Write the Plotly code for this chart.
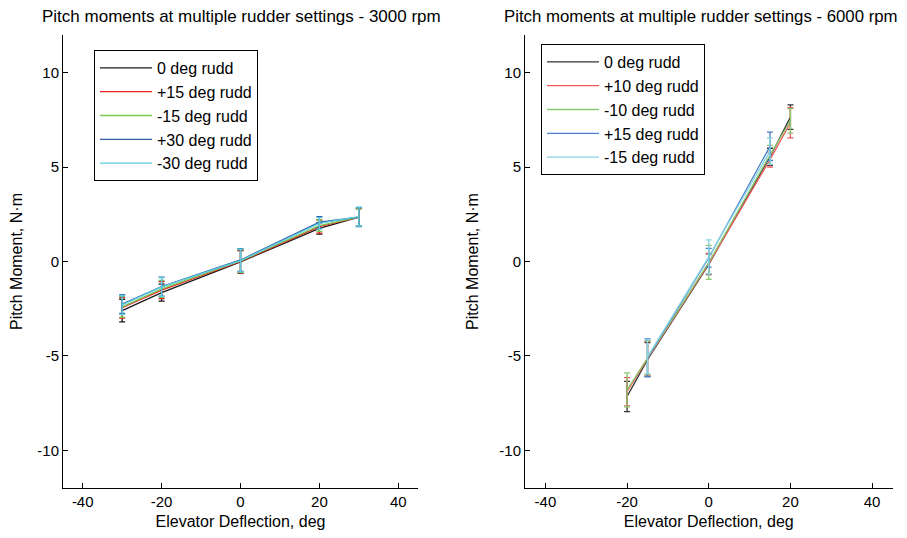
import plotly.graph_objects as go

# ---- Data: 3000 rpm ----
x_3000 = [-30, -20, 0, 20, 30]
names_3000 = ["0 deg rudd", "+15 deg rudd", "-15 deg rudd", "+30 deg rudd", "-30 deg rudd"]
y_3000_r0 = [-2.60, -1.65, -0.02, 1.75, 2.35]
y_3000_p15 = [-2.45, -1.52, 0.00, 1.85, 2.35]
y_3000_m15 = [-2.40, -1.45, 0.03, 1.90, 2.35]
y_3000_p30 = [-2.25, -1.33, 0.08, 2.08, 2.35]
y_3000_m30 = [-2.30, -1.35, 0.05, 2.02, 2.38]
e_3000_r0 = [0.60, 0.45, 0.60, 0.30, 0.45]
e_3000_p15 = [0.55, 0.45, 0.60, 0.35, 0.45]
e_3000_m15 = [0.55, 0.45, 0.60, 0.30, 0.45]
e_3000_p30 = [0.50, 0.50, 0.60, 0.30, 0.50]
e_3000_m30 = [0.50, 0.50, 0.60, 0.30, 0.50]

# ---- Data: 6000 rpm ----
x_6000_a = [-20, -15, 0, 15, 20]
x_6000_b = [-15, 0, 15]
names_6000 = ["0 deg rudd", "+10 deg rudd", "-10 deg rudd", "+15 deg rudd", "-15 deg rudd"]
y_6000_r0 = [-7.15, -5.20, -0.15, 5.55, 7.65]
y_6000_p10 = [-6.90, -5.15, -0.12, 5.40, 7.35]
y_6000_m10 = [-6.80, -5.10, -0.05, 5.65, 7.45]
y_6000_p15 = [-5.10, 0.20, 6.10]
y_6000_m15 = [-5.05, 0.25, 5.85]
e_6000_r0 = [0.80, 0.90, 0.55, 0.45, 0.65]
e_6000_p10 = [0.75, 0.90, 0.55, 0.40, 0.80]
e_6000_m10 = [0.90, 0.90, 0.90, 0.50, 0.65]
e_6000_p15 = [1.00, 0.50, 0.75]
e_6000_m15 = [0.90, 0.90, 0.70]

titles = ["Pitch moments at multiple rudder settings - 3000 rpm",
          "Pitch moments at multiple rudder settings - 6000 rpm"]
x_label = "Elevator Deflection, deg"
y_label = "Pitch Moment, N\u00b7m"
x_ticks = [-40, -20, 0, 20, 40]
x_ticktext = ["-40", "-20", "0", "20", "40"]
y_ticks = [-10, -5, 0, 5, 10]
y_ticktext = ["-10", "-5", "0", "5", "10"]

colors_left = ["#1a1a1a", "#ee2222", "#77c955", "#2f62a8", "#5fcbe0"]
colors_right = ["#333333", "#ec5a5a", "#8cc870", "#4a80c8", "#86d4e4"]

FONT = "Liberation Sans, Arial, sans-serif"

W, H = 899, 530  # page body has an 8px margin

fig = go.Figure()

left_series = [(y_3000_r0, e_3000_r0), (y_3000_p15, e_3000_p15), (y_3000_m15, e_3000_m15),
               (y_3000_p30, e_3000_p30), (y_3000_m30, e_3000_m30)]
for (ys, es), name, col in zip(left_series, names_3000, colors_left):
    fig.add_trace(go.Scatter(
        x=x_3000, y=ys, name=name, mode="lines",
        line=dict(color=col, width=1.3),
        error_y=dict(type="data", array=es, color=col, thickness=1.3, width=3),
        xaxis="x", yaxis="y", legend="legend"))

right_series = [(x_6000_a, y_6000_r0, e_6000_r0), (x_6000_a, y_6000_p10, e_6000_p10),
                (x_6000_a, y_6000_m10, e_6000_m10), (x_6000_b, y_6000_p15, e_6000_p15),
                (x_6000_b, y_6000_m15, e_6000_m15)]
for (xs, ys, es), name, col in zip(right_series, names_6000, colors_right):
    fig.add_trace(go.Scatter(
        x=xs, y=ys, name=name, mode="lines",
        line=dict(color=col, width=1.3),
        error_y=dict(type="data", array=es, color=col, thickness=1.3, width=3),
        xaxis="x2", yaxis="y2", legend="legend2"))

axis_common = dict(
    showline=True, linecolor="black", linewidth=1, mirror=False,
    ticks="inside", ticklen=5, tickcolor="black", tickwidth=1,
    showgrid=False, zeroline=False,
    tickfont=dict(family=FONT, size=15, color="black"),
)

xd1 = [55 / W, 410 / W]
xd2 = [517 / W, 884.5 / W]
yd = [1 - 480 / H, 1 - 27 / H]

fig.update_layout(
    width=W, height=H,
    margin=dict(l=0, r=0, t=0, b=0),
    paper_bgcolor="white", plot_bgcolor="white",
    font=dict(family=FONT, size=15, color="black"),
    xaxis=dict(domain=xd1, range=[-45, 45], tickvals=x_ticks, ticktext=x_ticktext, anchor="y",
               title=dict(text=x_label, font=dict(size=16), standoff=6), **axis_common),
    yaxis=dict(domain=yd, range=[-12, 12], tickvals=y_ticks, ticktext=y_ticktext, anchor="x",
               title=dict(text=y_label, font=dict(size=16), standoff=16), **axis_common),
    xaxis2=dict(domain=xd2, range=[-45, 45], tickvals=x_ticks, ticktext=x_ticktext, anchor="y2",
                title=dict(text=x_label, font=dict(size=16), standoff=6), **axis_common),
    yaxis2=dict(domain=yd, range=[-12, 12], tickvals=y_ticks, ticktext=y_ticktext, anchor="x2",
                title=dict(text=y_label, font=dict(size=16), standoff=16), **axis_common),
    legend=dict(x=86 / W, y=1 - 42 / H, xanchor="left", yanchor="top",
                bgcolor="white", bordercolor="black", borderwidth=1,
                font=dict(family=FONT, size=16), itemwidth=52),
    legend2=dict(x=533 / W, y=1 - 36 / H, xanchor="left", yanchor="top",
                 bgcolor="white", bordercolor="black", borderwidth=1,
                 font=dict(family=FONT, size=16), itemwidth=52),
    showlegend=True,
    annotations=[
        dict(text=titles[0], x=233 / W, y=1 - 9 / H, xref="paper", yref="paper",
             xanchor="center", yanchor="middle", showarrow=False,
             font=dict(family=FONT, size=17)),
        dict(text=titles[1], x=693 / W, y=1 - 9 / H, xref="paper", yref="paper",
             xanchor="center", yanchor="middle", showarrow=False,
             font=dict(family=FONT, size=16.8)),
    ],
)

fig.write_html("out.html")
